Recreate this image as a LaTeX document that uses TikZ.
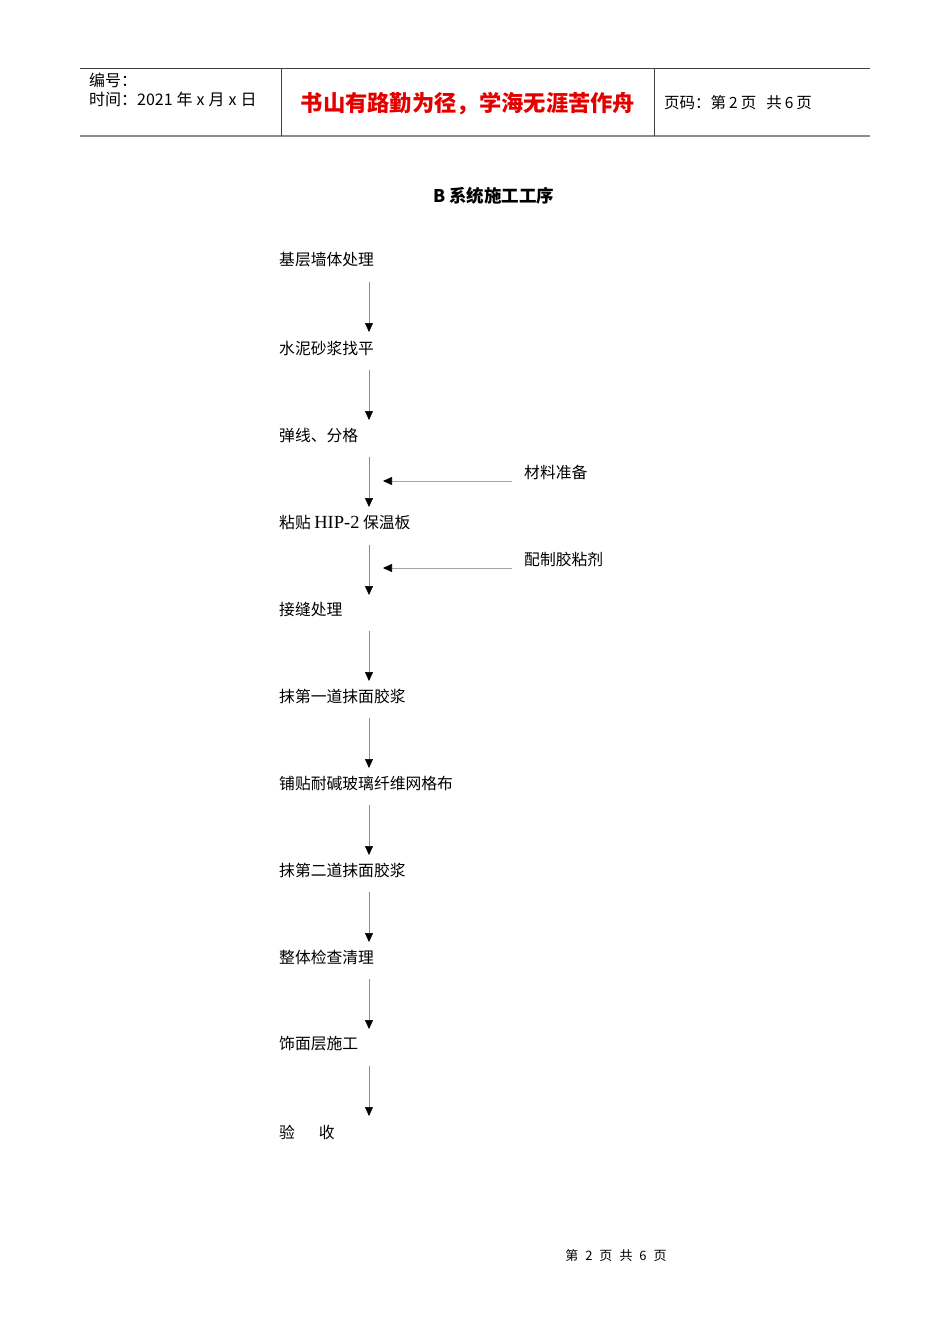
\documentclass[tikz,border=0pt]{standalone}
\usepackage{fontspec}
\setmainfont{Liberation Serif}
\newfontfamily\cjk{Noto Sans CJK SC}
\newfontfamily\hdrfont{Liberation Sans}
\usetikzlibrary{arrows.meta}
\begin{document}
\begin{tikzpicture}[x=1pt,y=-1pt,
  stepnode/.style={anchor=west,inner sep=0pt,font=\cjk\fontsize{15.8}{18}\selectfont},
  sidenode/.style={anchor=west,inner sep=0pt,font=\cjk\fontsize{15.8}{18}\selectfont},
  flow/.style={draw=black!45,line width=0.6pt,-{Triangle[width=8pt,length=9pt,color=black]}},
  sideflow/.style={draw=black!35,line width=0.6pt,-{Triangle[width=8pt,length=9pt,color=black]}},
  hdrline/.style={draw=black!75,line width=0.9pt}]
\useasboundingbox (0,0) rectangle (950,1344);
% header
\draw[hdrline] (80,68) -- (870,68);
\draw[draw=black!45,line width=1.8pt] (80,136) -- (870,136);
\draw[hdrline] (281,68) -- (281,136);
\draw[hdrline] (654,68) -- (654,136);
\node[anchor=west,inner sep=0pt,font=\cjk\fontsize{16}{18}\selectfont] (h1) at (89,80) {编号：};
\node[anchor=west,inner sep=0pt,font=\cjk\fontsize{16}{18}\selectfont] (h2) at (89,99) {时间：2021\hspace{4pt}年\hspace{4pt}x\hspace{4pt}月\hspace{4pt}x\hspace{4pt}日};
\node[anchor=center,inner sep=0pt,text=red!90!black,font=\cjk\bfseries\fontsize{22.3}{24}\selectfont] (motto) at (468,104) {书山有路勤为径，学海无涯苦作舟};
\node[anchor=west,inner sep=0pt,font=\cjk\fontsize{15.5}{18}\selectfont] (pg) at (664,103) {页码：第\hspace{3pt}2\hspace{3pt}页\hspace{10pt}共\hspace{3pt}6\hspace{3pt}页};
% title
\node[anchor=center,inner sep=0pt,font=\cjk\bfseries\fontsize{17.5}{20}\selectfont] (title) at (494,196) {B\hspace{3pt}系统施工工序};
% steps
\node[stepnode] (s1) at (279,260) {基层墙体处理};
\node[stepnode] (s2) at (279,348) {水泥砂浆找平};
\node[stepnode] (s3) at (279,435) {弹线、分格};
\node[stepnode] (s4) at (279,523) {粘贴 {\rmfamily\fontsize{18.5}{20}\selectfont HIP-2} 保温板};
\node[stepnode] (s5) at (279,609) {接缝处理};
\node[stepnode] (s6) at (279,696) {抹第一道抹面胶浆};
\node[stepnode] (s7) at (279,783) {铺贴耐碱玻璃纤维网格布};
\node[stepnode] (s8) at (279,870) {抹第二道抹面胶浆};
\node[stepnode] (s9) at (279,957) {整体检查清理};
\node[stepnode] (s10) at (279,1044) {饰面层施工};
\node[stepnode] (s11) at (279,1132) {验\hspace{24pt}收};
\foreach \i in {1,...,10}{
  \draw[flow] (s\i.west) ++(90,22) -- ++(0,50);
}
% side inputs
\node[sidenode] (m1) at (524,472) {材料准备};
\node[sidenode] (m2) at (524,559) {配制胶粘剂};
\draw[sideflow] (m1.west) ++(-12,9) -- ++(-129,0);
\draw[sideflow] (m2.west) ++(-12,9) -- ++(-129,0);
% footer
\node[anchor=center,inner sep=0pt,font=\cjk\fontsize{13}{16}\selectfont] (foot) at (616,1256) {第\hspace{7pt}2\hspace{7pt}页\hspace{7pt}共\hspace{7pt}6\hspace{7pt}页};
\end{tikzpicture}
\end{document}
